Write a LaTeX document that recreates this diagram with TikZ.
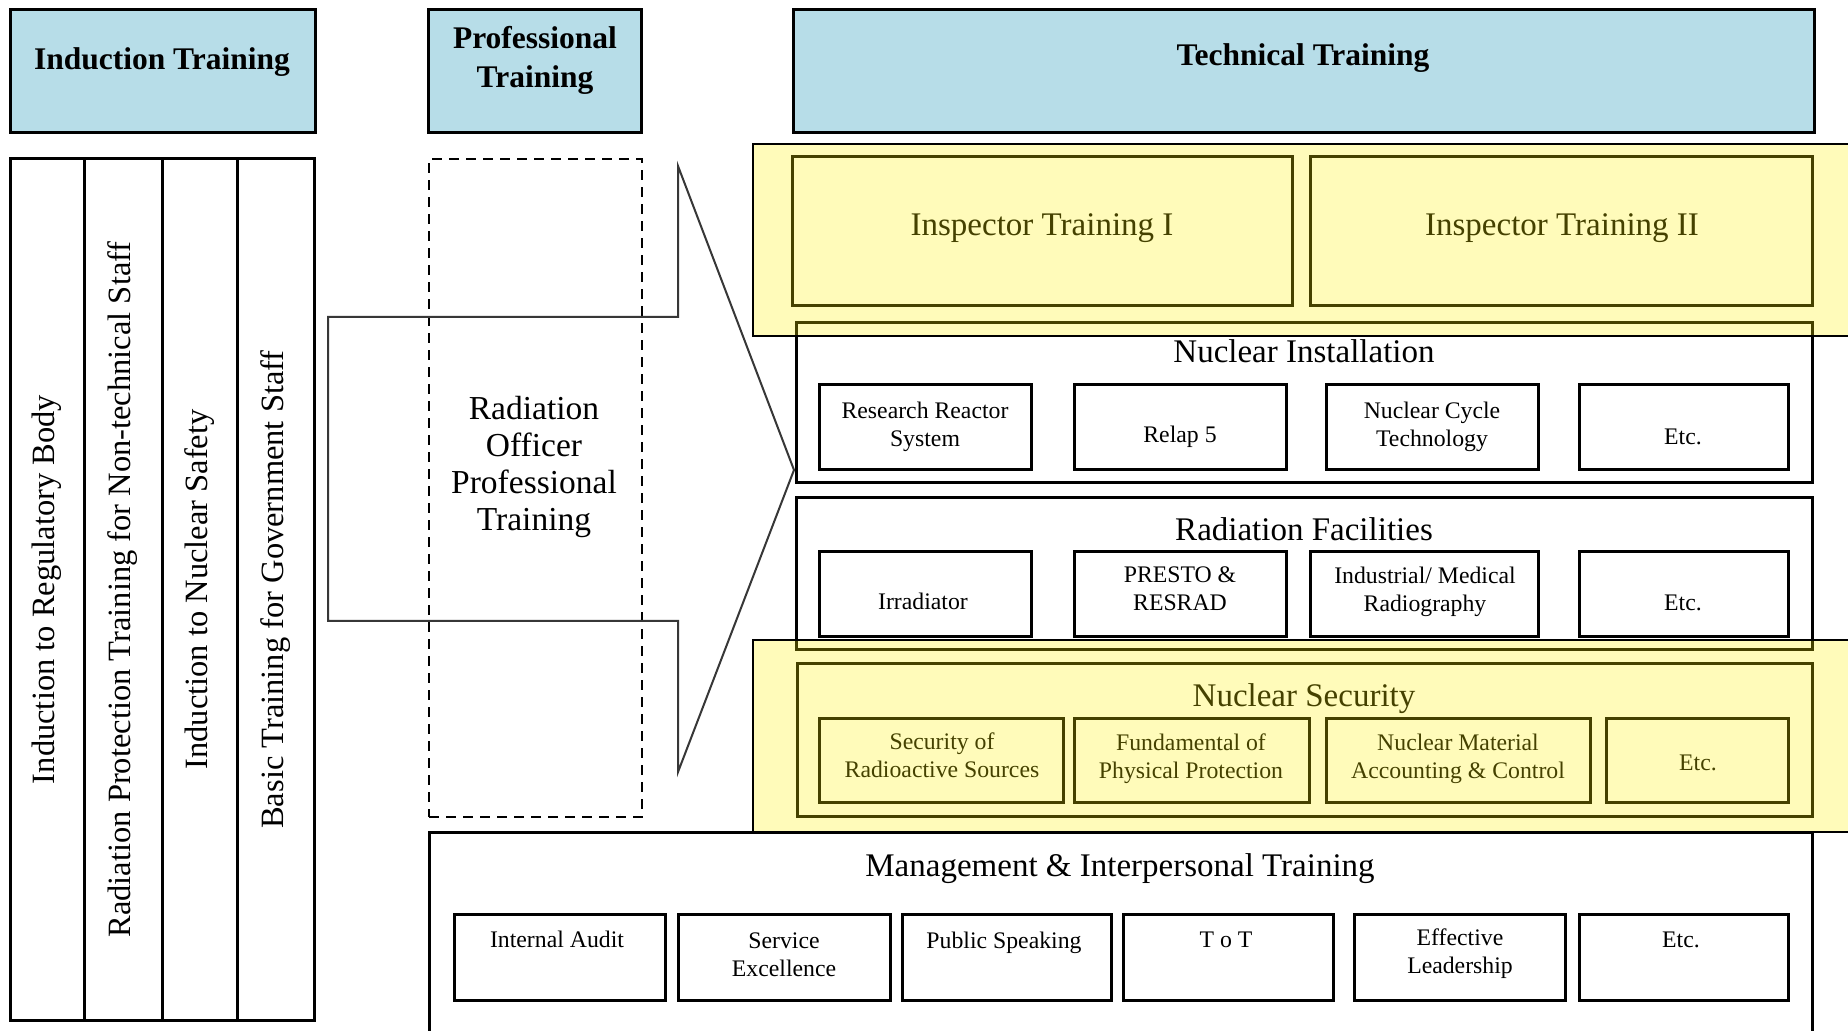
\documentclass[tikz,border=0pt]{standalone}
\usepackage{fontspec}
\setmainfont{Liberation Serif}
\usetikzlibrary{fit}
\definecolor{hdrblue}{RGB}{183,221,232}
\definecolor{callgray}{RGB}{55,55,55}
\begin{document}
\begin{tikzpicture}[x=0.4pt,y=-0.4pt,
  box/.style={draw=black, line width=1.2pt, inner sep=0pt, outer sep=0pt},
  hdr/.style={box, fill=hdrblue},
  dashbox/.style={draw=black, line width=1pt, dash pattern=on 4pt off 2.8pt, inner sep=0pt, outer sep=0pt},
  ybg/.style={draw=black, line width=0.8pt, fill=yellow, fill opacity=0.27, inner sep=0pt, outer sep=0pt},
  callout/.style={draw=callgray, line width=0.8pt, line join=miter},
  hdrtxt/.style={font=\fontsize{12.6}{15.6}\selectfont\bfseries, align=center, inner sep=0pt},
  sectxt/.style={font=\fontsize{13.2}{15}\selectfont, inner sep=0pt},
  subtxt/.style={font=\fontsize{9.5}{11.2}\selectfont, align=center, inner sep=0pt},
  vtxt/.style={font=\fontsize{13}{15}\selectfont, rotate=90, inner sep=0pt},
  rotxt/.style={font=\fontsize{13.4}{14.8}\selectfont, align=center, inner sep=0pt},
]
\fill[white] (0,0) rectangle (1848,1031);
\useasboundingbox (0,0) rectangle (1848,1031);

% headers
\node[hdr, fit={(10,10)(315,133)}] (indhdr) {};
\node[hdrtxt] (indhdrt) at (162,62.5) {Induction Training};
\node[hdr, fit={(428,10)(641,133)}] (profhdr) {};
\node[hdrtxt] (profhdrt) at (535,60.5) {Professional\\Training};
\node[hdr, fit={(793,10)(1814,133)}] (techhdr) {};
\node[hdrtxt] (techhdrt) at (1303,58.5) {Technical Training};

% induction columns
\node[box, fit={(10,159)(84,1020)}] (c1) {};
\node[box, fit={(84,159)(162,1020)}] (c2) {};
\node[box, fit={(162,159)(237,1020)}] (c3) {};
\node[box, fit={(237,159)(314,1020)}] (c4) {};
\node[vtxt] (c1t) at (c1.center) {Induction to Regulatory Body};
\node[vtxt] (c2t) at (c2.center) {Radiation Protection Training for Non-technical Staff};
\node[vtxt] (c3t) at (c3.center) {Induction to Nuclear Safety};
\node[vtxt] (c4t) at (c4.center) {Basic Training for Government Staff};

% professional dashed box
\node[dashbox, fit={(429,159)(642,817)}] (dbox) {};
\node[rotxt] (dboxt) at (534,467) {Radiation\\Officer\\Professional\\Training};

% callout arrow
\coordinate (k1) at (328,317);
\coordinate (k2) at (678,317);
\coordinate (k3) at (678,166);
\coordinate (k4) at (794,470);
\coordinate (k5) at (678,772);
\coordinate (k6) at (678,621);
\coordinate (k7) at (328,621);
\draw[callout] (k1) -- (k2) -- (k3) -- (k4) -- (k5) -- (k6) -- (k7) -- cycle;

% inspector training
\node[box, fit={(792,157)(1292,306)}] (insp1) {};
\node[sectxt] (insp1t) at (1042,228.5) {Inspector Training I};
\node[box, fit={(1310,157)(1812,306)}] (insp2) {};
\node[sectxt] (insp2t) at (1562,228.5) {Inspector Training II};

% nuclear installation
\node[box, fit={(796,323)(1812,483)}] (ni) {};
\node[sectxt] (nit) at (1304,351) {Nuclear Installation};
\node[box, fit={(819,385)(1031,470)}] (rr) {};
\node[subtxt] (rrt) at (925,426.5) {Research Reactor\\System};
\node[box, fit={(1074,385)(1286,470)}] (relap) {};
\node[subtxt] (relapt) at (1180,436.5) {Relap 5};
\node[box, fit={(1326,385)(1538,470)}] (ncyc) {};
\node[subtxt] (ncyct) at (1432,426.5) {Nuclear Cycle\\Technology};
\node[box, fit={(1579,385)(1788,470)}] (etca) {};
\node[subtxt] (etcat) at (1683,437) {Etc.};

% radiation facilities
\node[box, fit={(796,498)(1812,650)}] (rf) {};
\node[sectxt] (rft) at (1304,529) {Radiation Facilities};
\node[box, fit={(819,552)(1031,637)}] (irr) {};
\node[subtxt] (irrt) at (923,601) {Irradiator};
\node[box, fit={(1074,552)(1286,637)}] (presto) {};
\node[subtxt] (prestot) at (1180,589) {PRESTO \&\\RESRAD};
\node[box, fit={(1310,552)(1538,637)}] (indrad) {};
\node[subtxt] (indradt) at (1425,591.5) {Industrial/ Medical\\Radiography};
\node[box, fit={(1579,552)(1788,637)}] (etcb) {};
\node[subtxt] (etcbt) at (1683,603) {Etc.};

% nuclear security
\node[box, fit={(797,664)(1812,817)}] (ns) {};
\node[sectxt] (nst) at (1304,698.5) {Nuclear Security};
\node[box, fit={(819,719)(1063,803)}] (srs) {};
\node[subtxt] (srst) at (942,755) {Security of\\Radioactive Sources};
\node[box, fit={(1074,719)(1309,803)}] (fpp) {};
\node[subtxt] (fppt) at (1191,758.5) {Fundamental of\\Physical Protection};
\node[box, fit={(1326,719)(1590,803)}] (nmac) {};
\node[subtxt] (nmact) at (1458,758.5) {Nuclear Material\\Accounting \& Control};
\node[box, fit={(1606,719)(1788,803)}] (etcc) {};
\node[subtxt] (etcct) at (1698,763) {Etc.};

% management
\node[box, fit={(429,833)(1812,1045)}] (mg) {};
\node[sectxt] (mgt) at (1120,868.5) {Management \& Interpersonal Training};
\node[box, fit={(454,914)(665,1000)}] (ia) {};
\node[subtxt] (iat) at (557,939) {Internal Audit};
\node[box, fit={(678,914)(890,1000)}] (se) {};
\node[subtxt] (set) at (784,955) {Service\\Excellence};
\node[box, fit={(902,914)(1111,1000)}] (ps) {};
\node[subtxt] (pst) at (1004,942.5) {Public Speaking};
\node[box, fit={(1123,914)(1333,1000)}] (tot) {};
\node[subtxt] (tott) at (1226,940) {T o T};
\node[box, fit={(1354,914)(1565,1000)}] (el) {};
\node[subtxt] (elt) at (1460,953.5) {Effective\\Leadership};
\node[box, fit={(1579,914)(1788,1000)}] (etcd) {};
\node[subtxt] (etcdt) at (1681,940) {Etc.};

% yellow overlays
\node[ybg, fit={(753,144)(1870,336)}] (y1) {};
\node[ybg, fit={(753,640)(1870,832)}] (y2) {};
\end{tikzpicture}
\end{document}
